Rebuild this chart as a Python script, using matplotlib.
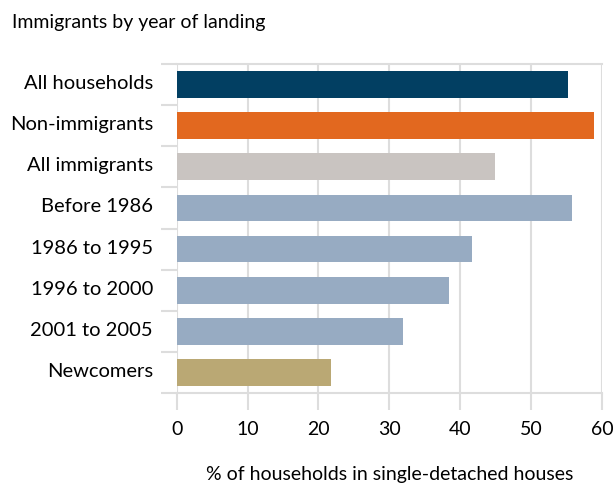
import matplotlib
matplotlib.use("Agg")
import matplotlib.pyplot as plt
import matplotlib.transforms as mtransforms
import numpy as np

categories = ["All households", "Non-immigrants", "All immigrants", "Before 1986",
              "1986 to 1995", "1996 to 2000", "2001 to 2005", "Newcomers"]
values = [55.2, 58.9, 44.9, 55.7, 41.6, 38.4, 31.9, 21.8]
bar_colors = ["#023F62", "#E2681F", "#C9C4C1", "#97ABC2",
              "#97ABC2", "#97ABC2", "#97ABC2", "#BAA874"]
x_ticks = [0, 10, 20, 30, 40, 50, 60]

plt.rcParams["font.family"] = ["Lato", "DejaVu Sans"]
grid_col = "#DDDDDD"

fig = plt.figure(figsize=(6.15, 4.83), dpi=100)
ax = fig.add_axes([176.7 / 615, 1 - 393 / 483, (602 - 176.7) / 615, (393 - 64) / 483])

y = np.arange(len(categories))
ax.barh(y, values, height=0.65, color=bar_colors, zorder=3)

ax.set_xlim(0, 60)
ax.set_ylim(len(categories) - 0.5, -0.5)

ax.set_xticks(x_ticks)
ax.set_xticklabels([str(t) for t in x_ticks], fontsize=14)
ax.set_yticks(y)
ax.set_yticklabels(categories, fontsize=14.5)
ax.set_yticks(np.arange(len(categories) + 1) - 0.5, minor=True)

ax.tick_params(axis="y", which="major", length=0, pad=17)
ax.tick_params(axis="y", which="minor", length=11.5, width=1.5, color=grid_col, direction="out")
ax.tick_params(axis="x", which="major", length=12, width=1.5, color=grid_col, pad=8)

# nudge category labels slightly upward
shift = mtransforms.ScaledTranslation(0, 2.5 / 100, fig.dpi_scale_trans)
for lbl in ax.get_yticklabels():
    lbl.set_transform(lbl.get_transform() + shift)

ax.xaxis.grid(True, color=grid_col, linewidth=1.5, zorder=0)
ax.set_axisbelow(True)

for side in ["left", "right"]:
    ax.spines[side].set_visible(False)
for side in ["top", "bottom"]:
    ax.spines[side].set_color(grid_col)
    ax.spines[side].set_linewidth(1.5)

ax.set_xlabel("% of households in single-detached houses", fontsize=14, labelpad=20)

fig.text(12 / 615, 1 - 28 / 483, "Immigrants by year of landing", fontsize=14,
         ha="left", va="baseline")

fig.savefig("out.png", dpi=100)
